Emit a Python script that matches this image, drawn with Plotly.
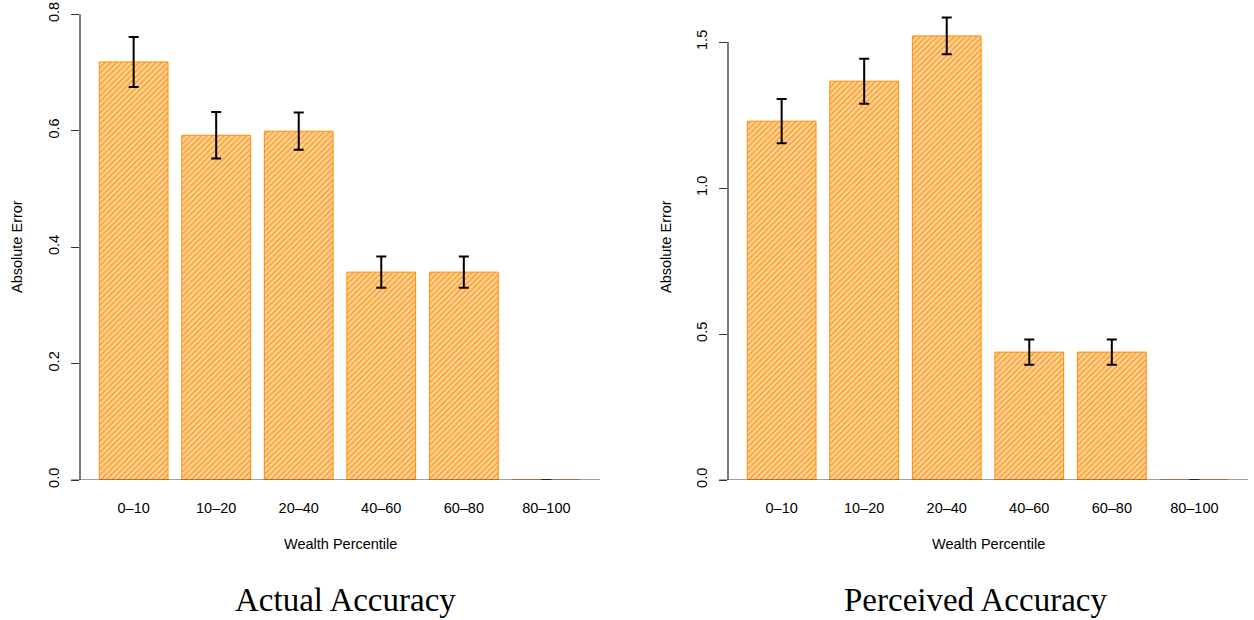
import plotly.graph_objects as go

categories = ["0\u201310", "10\u201320", "20\u201340", "40\u201360", "60\u201380", "80\u2013100"]
actual_values = [0.718, 0.592, 0.599, 0.357, 0.357, 0.0]
actual_errors = [0.043, 0.040, 0.032, 0.027, 0.027, None]
perceived_values = [1.229, 1.366, 1.521, 0.438, 0.438, 0.0]
perceived_errors = [0.076, 0.077, 0.063, 0.043, 0.043, None]
actual_ticks = [0.0, 0.2, 0.4, 0.6, 0.8]
perceived_ticks = [0.0, 0.5, 1.0, 1.5]

W, H = 1254, 620
px = lambda v: v / W
py = lambda v: 1 - v / H

fig = go.Figure()

def add_panel(vals, errs, xa, ya):
    fig.add_trace(go.Bar(
        x=categories, y=vals, width=0.833,
        xaxis=xa, yaxis=ya,
        marker=dict(
            color="#FFD49A",
            line=dict(color="#FF8C00", width=1),
            pattern=dict(shape="/", fgcolor="#FFA030", bgcolor="#FFD69E",
                         size=4, solidity=0.45, fillmode="replace"),
        ),
        error_y=dict(type="data", array=[e if e is not None else float("nan") for e in errs],
                     visible=True, color="black", thickness=2, width=5),
        showlegend=False, hoverinfo="skip",
    ))

add_panel(actual_values, actual_errors, "x", "y")
add_panel(perceived_values, perceived_errors, "x2", "y2")

font_axis = dict(family="Liberation Sans, Arial, sans-serif", size=14.5, color="black")

common_x = dict(range=[-0.65, 5.65], showline=False, ticks="", showgrid=False,
                zeroline=False, tickfont=font_axis, ticklabelstandoff=17,
                type="category", automargin=False)
common_y = dict(showline=False, ticks="outside", ticklen=8, tickwidth=1,
                tickcolor="#333", showgrid=False, zeroline=False,
                tickfont=font_axis, tickangle=-90, ticklabelstandoff=6,
                automargin=False, ticklabeloverflow="allow")

ydom = [py(480), py(14)]
fig.update_layout(
    width=W, height=H,
    margin=dict(l=0, r=0, t=0, b=0, pad=0, autoexpand=False),
    plot_bgcolor="white", paper_bgcolor="white",
    xaxis=dict(domain=[px(80), px(600)], anchor="y", **common_x),
    yaxis=dict(domain=ydom, anchor="x", range=[0, 0.8003], tickvals=actual_ticks,
               ticktext=["0.0", "0.2", "0.4", "0.6", "0.8"], **common_y),
    xaxis2=dict(domain=[px(728), px(1248)], anchor="y2", **common_x),
    yaxis2=dict(domain=ydom, anchor="x2", range=[0, 1.596], tickvals=perceived_ticks,
                ticktext=["0.0", "0.5", "1.0", "1.5"], **common_y),
)

shapes = []
shapes.append(dict(type="line", xref="x domain", yref="y", x0=0, x1=0,
                   y0=actual_ticks[0], y1=actual_ticks[-1], line=dict(color="#222", width=1.2)))
shapes.append(dict(type="line", xref="x2 domain", yref="y2", x0=0, x1=0,
                   y0=perceived_ticks[0], y1=perceived_ticks[-1], line=dict(color="#222", width=1.2)))
shapes.append(dict(type="line", xref="paper", yref="y", x0=px(71), x1=px(600),
                   y0=0, y1=0, line=dict(color="#444", width=1.2)))
shapes.append(dict(type="line", xref="paper", yref="y2", x0=px(719), x1=px(1248),
                   y0=0, y1=0, line=dict(color="#444", width=1.2)))
fig.update_layout(shapes=shapes)

title_font = dict(family="Liberation Serif, serif", size=33, color="black")
annotations = [
    dict(text="Wealth Percentile", x=px(340), y=py(544), xref="paper", yref="paper",
         showarrow=False, font=font_axis, xanchor="center", yanchor="middle"),
    dict(text="Wealth Percentile", x=px(988), y=py(544), xref="paper", yref="paper",
         showarrow=False, font=font_axis, xanchor="center", yanchor="middle"),
    dict(text="Absolute Error", x=px(17), y=py(247), xref="paper", yref="paper",
         showarrow=False, font=font_axis, textangle=-90, xanchor="center", yanchor="middle"),
    dict(text="Absolute Error", x=px(666), y=py(247), xref="paper", yref="paper",
         showarrow=False, font=font_axis, textangle=-90, xanchor="center", yanchor="middle"),
    dict(text="Actual Accuracy", x=px(345), y=py(600), xref="paper", yref="paper",
         showarrow=False, font=title_font, xanchor="center", yanchor="middle"),
    dict(text="Perceived Accuracy", x=px(975), y=py(600), xref="paper", yref="paper",
         showarrow=False, font=title_font, xanchor="center", yanchor="middle"),
]
fig.update_layout(annotations=annotations)

fig.write_html("out.html",
               config={"displayModeBar": False, "staticPlot": True},
               post_script="document.body.style.margin='0';document.body.style.overflow='hidden';")
